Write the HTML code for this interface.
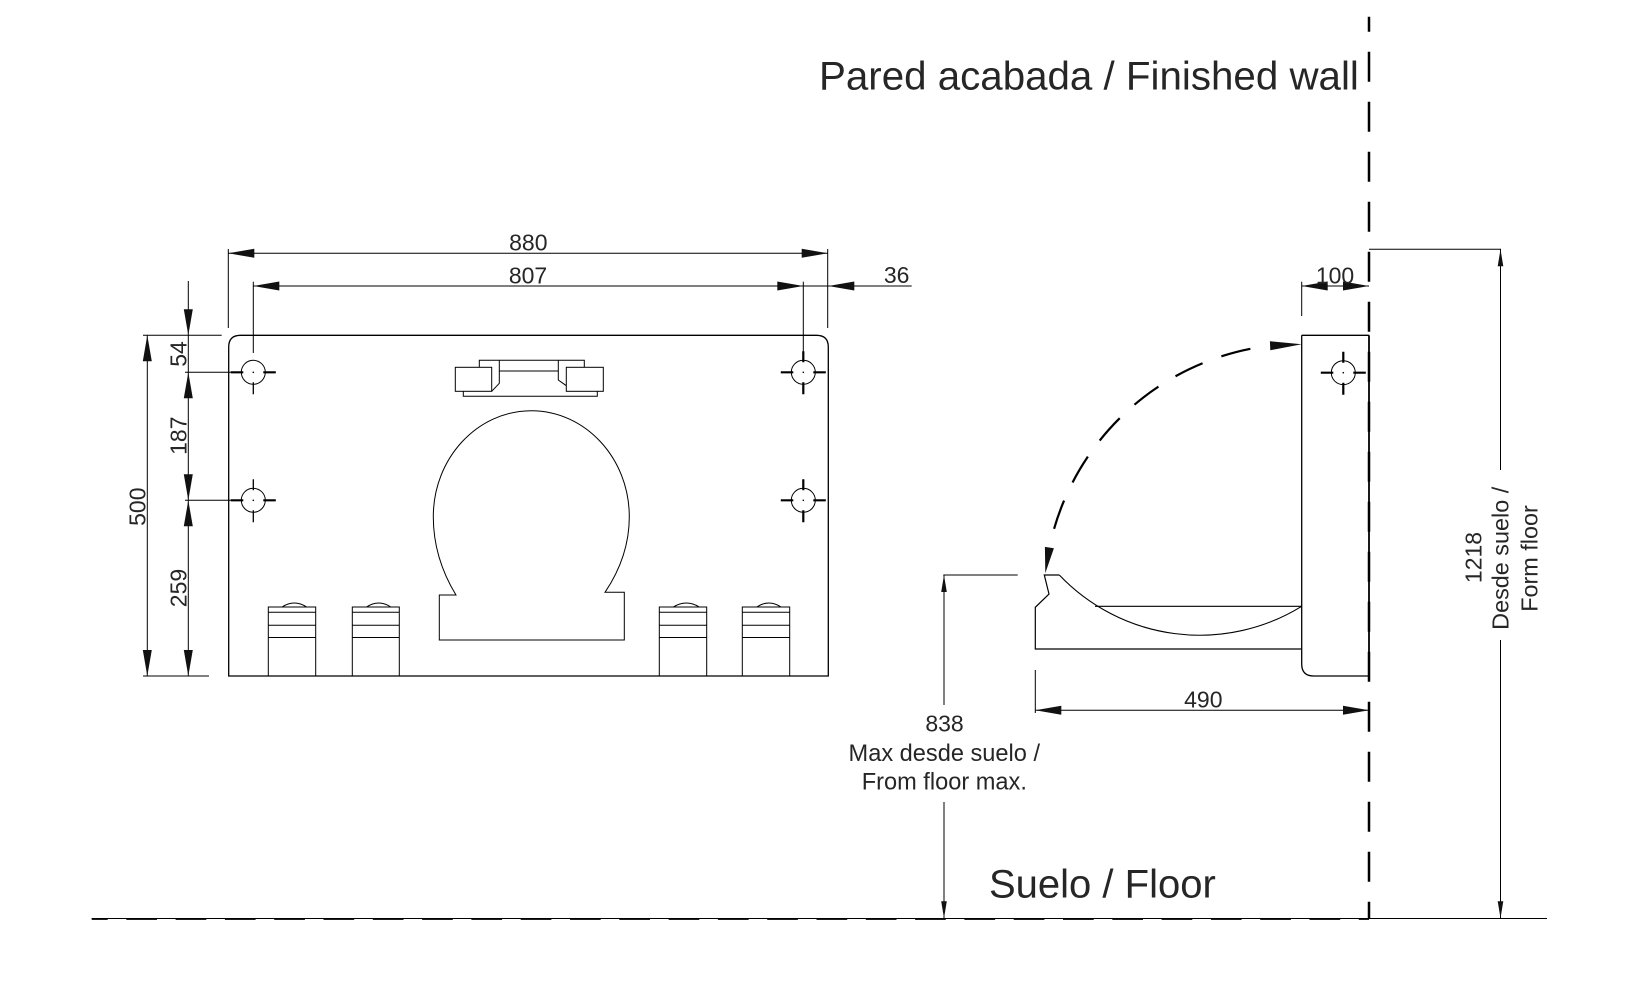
<!DOCTYPE html>
<html><head><meta charset="utf-8"><style>
html,body{margin:0;padding:0;background:#fff;}
svg{display:block;}
text{font-family:"Liberation Sans",Arial,sans-serif;fill:#262626;}
</style></head><body>
<svg width="1652" height="1005" viewBox="0 0 1652 1005" xmlns="http://www.w3.org/2000/svg">
<rect width="1652" height="1005" fill="#fff"/>
<g stroke="#000" stroke-width="1" fill="none">
<!-- ===== FRONT VIEW PLATE ===== -->
<path d="M228.7,676 V347 Q228.7,335.3 240.5,335.3 H816.5 Q828.3,335.3 828.3,347 V676 Z" stroke-width="1.3"/>
<!-- handle -->
<rect x="455.3" y="367.3" width="36.4" height="24"/>
<rect x="566.3" y="367.3" width="37" height="24"/>
<polyline points="479.3,367.3 479.3,360.3 584.3,360.3 584.3,367.3"/>
<polyline points="499.3,360.3 499.3,383.3 491.7,391.3"/>
<polyline points="558.3,360.3 558.3,380 566.3,385.7"/>
<line x1="499.3" y1="371" x2="558.3" y2="371"/>
<polyline points="463.3,391.3 463.3,396.3 597.3,396.3 597.3,391.3"/>
<!-- keyhole -->
<path d="M456,595 C442,572 433.3,545 433.3,516.7 C433.3,458.2 477.4,410.7 531.3,410.7 C585.2,410.7 629.3,458.2 629.3,516.7 C629.3,545 620,570 605,592.3 H624.3 V640 H439.3 V595 Z"/>
<!-- buttons -->
<g>
<rect x="268.3" y="607" width="47.4" height="69"/><line x1="268.3" y1="612.3" x2="315.7" y2="612.3"/><line x1="268.3" y1="625.3" x2="315.7" y2="625.3"/><line x1="268.3" y1="637.5" x2="315.7" y2="637.5"/><path d="M282,607 Q294.3,599 306.7,607"/>
<rect x="352.3" y="607" width="47" height="69"/><line x1="352.3" y1="612.3" x2="399.3" y2="612.3"/><line x1="352.3" y1="625.3" x2="399.3" y2="625.3"/><line x1="352.3" y1="637.5" x2="399.3" y2="637.5"/><path d="M366.5,607 Q378.7,599 390.8,607"/>
<rect x="659.3" y="607" width="47.4" height="69"/><line x1="659.3" y1="612.3" x2="706.7" y2="612.3"/><line x1="659.3" y1="625.3" x2="706.7" y2="625.3"/><line x1="659.3" y1="637.5" x2="706.7" y2="637.5"/><path d="M673.3,607 Q686.3,599 699.3,607"/>
<rect x="742.3" y="607" width="47.4" height="69"/><line x1="742.3" y1="612.3" x2="789.7" y2="612.3"/><line x1="742.3" y1="625.3" x2="789.7" y2="625.3"/><line x1="742.3" y1="637.5" x2="789.7" y2="637.5"/><path d="M756.7,607 Q768.8,599 781,607"/>
</g>
<!-- holes -->
<g>
<circle cx="253.3" cy="372.3" r="12"/><circle cx="803.3" cy="372.3" r="12"/>
<circle cx="253.3" cy="500.3" r="12"/><circle cx="803.3" cy="500.3" r="12"/>
<circle cx="1343.3" cy="372.7" r="12"/>
</g>
<g stroke-width="2.2">
<path d="M230.8,372.3 H243.3 M263.3,372.3 H275.8 M780.8,372.3 H793.3 M813.3,372.3 H825.8"/>
<path d="M230.8,500.3 H243.3 M263.3,500.3 H275.8 M780.8,500.3 H793.3 M813.3,500.3 H825.8"/>
<path d="M1320.8,372.7 H1333.3 M1353.3,372.7 H1365.8"/>
<path d="M803.3,351.3 V362.3 M803.3,382.3 V394.3 M803.3,479.3 V490.3 M803.3,510.3 V522.3 M1343.3,351.7 V362.7 M1343.3,382.7 V394.7"/>
</g>
<g stroke-width="1.3">
<path d="M253.3,382.3 V394.3 M253.3,479.3 V490.3 M253.3,510.3 V522.3"/>
</g>
<g fill="#000" stroke="none">
<circle cx="253.3" cy="372.3" r="0.8"/><circle cx="803.3" cy="372.3" r="0.8"/><circle cx="253.3" cy="500.3" r="0.8"/><circle cx="803.3" cy="500.3" r="0.8"/><circle cx="1343.3" cy="372.7" r="0.8"/>
</g>

<!-- ===== FRONT VIEW DIMENSIONS ===== -->
<line x1="228.3" y1="249" x2="228.3" y2="328"/>
<line x1="827.7" y1="249" x2="827.7" y2="328"/>
<line x1="228.3" y1="253.3" x2="827.7" y2="253.3"/>
<line x1="253.3" y1="281.7" x2="253.3" y2="353"/>
<line x1="803.3" y1="281.7" x2="803.3" y2="353"/>
<line x1="253.3" y1="286" x2="911.7" y2="286"/>
<line x1="143" y1="335.3" x2="221.7" y2="335.3"/>
<line x1="143" y1="676" x2="209" y2="676"/>
<line x1="185" y1="372.3" x2="231" y2="372.3"/>
<line x1="185" y1="500.3" x2="231" y2="500.3"/>
<line x1="188.3" y1="281" x2="188.3" y2="676"/>
<line x1="147.3" y1="335.3" x2="147.3" y2="676"/>

<!-- ===== SIDE VIEW ===== -->
<path d="M1301.7,335.3 H1369 M1301.7,335.3 V664 Q1301.7,676 1313.7,676 H1369" stroke-width="1.3"/>
<line x1="1369" y1="335.3" x2="1369" y2="676" stroke-width="1.8"/>
<polyline points="1059.3,575 1044.3,575 1049,594 1035.3,607.3 1035.3,649 1301.7,649" stroke-width="1.2"/>
<line x1="1095" y1="606.3" x2="1301.7" y2="606.3" stroke-width="1.2"/>
<path d="M1059.3,575 A194,194 0 0 0 1301.7,606.3" stroke-width="1.1"/>
<!-- dashed rotation arc -->
<path d="M1270.1,345.7 A256,256 0 0 0 1049.4,547.6" stroke-width="2.2" stroke-dasharray="30 20" stroke-dashoffset="30"/>

<!-- side dims -->
<line x1="1301.7" y1="281.7" x2="1301.7" y2="316"/>
<line x1="1301.7" y1="286" x2="1369" y2="286"/>
<line x1="1369" y1="249.3" x2="1501" y2="249.3"/>
<line x1="1500.5" y1="249.3" x2="1500.5" y2="470"/>
<line x1="1500.5" y1="640" x2="1500.5" y2="918.3"/>
<line x1="943.3" y1="575" x2="1017.7" y2="575"/>
<line x1="944" y1="575" x2="944" y2="705"/>
<line x1="944" y1="802" x2="944" y2="918.3"/>
<line x1="1035.3" y1="670" x2="1035.3" y2="713"/>
<line x1="1035.3" y1="710.3" x2="1369" y2="710.3"/>

<!-- wall & floor -->
<line x1="1369" y1="16.7" x2="1369" y2="918.3" stroke-width="2.5" stroke-dasharray="30 20" stroke-dashoffset="15"/>
<line x1="91.7" y1="918.5" x2="1547" y2="918.5" stroke-width="1"/>
<line x1="91.7" y1="919" x2="1369" y2="919" stroke-width="1.8" stroke-dasharray="30.7 18.6" stroke-dashoffset="14.7"/>
</g>

<!-- ===== ARROWHEADS ===== -->
<g fill="#111" stroke="none">
<!-- 880 -->
<polygon points="228.3,253.3 254.3,248.8 254.3,257.8"/>
<polygon points="827.7,253.3 801.7,248.8 801.7,257.8"/>
<!-- 807 -->
<polygon points="253.3,286 279.3,281.5 279.3,290.5"/>
<polygon points="803.3,286 777.3,281.5 777.3,290.5"/>
<!-- 36 -->
<polygon points="828.3,286 854.3,281.5 854.3,290.5"/>
<!-- 100 -->
<polygon points="1301.7,286 1327.7,281.5 1327.7,290.5"/>
<polygon points="1369,286 1343,281.5 1343,290.5"/>
<!-- 490 -->
<polygon points="1035.3,710.3 1061.3,705.8 1061.3,714.8"/>
<polygon points="1369,710.3 1343,705.8 1343,714.8"/>
<!-- left verticals -->
<polygon points="188.3,335.3 183.8,309.3 192.8,309.3"/>
<polygon points="188.3,372.3 183.8,398.3 192.8,398.3"/>
<polygon points="188.3,500.3 183.8,474.3 192.8,474.3"/>
<polygon points="188.3,500.3 183.8,526.3 192.8,526.3"/>
<polygon points="188.3,676 183.8,650 192.8,650"/>
<polygon points="147.3,335.3 142.8,361.3 151.8,361.3"/>
<polygon points="147.3,676 142.8,650 151.8,650"/>
<!-- narrow arrows 838 / 1218 -->
<polygon points="944,575 941.2,592 946.8,592"/>
<polygon points="944,918.3 941.2,901.3 946.8,901.3"/>
<polygon points="1500.5,249.3 1497.7,266.3 1503.3,266.3"/>
<polygon points="1500.5,918.3 1497.7,901.3 1503.3,901.3"/>
<!-- arc arrows -->
<polygon points="1301.7,344.3 1270.3,350.2 1269.9,341.2"/>
<polygon points="1045.3,573.3 1053.9,548.3 1044.9,546.9"/>
</g>

<!-- ===== TEXT ===== -->
<g font-size="23">
<text x="528.3" y="250.7" text-anchor="middle">880</text>
<text x="528" y="283.3" text-anchor="middle">807</text>
<text x="896.7" y="283" text-anchor="middle">36</text>
<text x="1335" y="283.3" text-anchor="middle">100</text>
<text x="1203.3" y="707.3" text-anchor="middle">490</text>
<text transform="translate(186.5,354) rotate(-90)" text-anchor="middle">54</text>
<text transform="translate(186.5,435.7) rotate(-90)" text-anchor="middle">187</text>
<text transform="translate(186.5,588) rotate(-90)" text-anchor="middle">259</text>
<text transform="translate(145.7,506.7) rotate(-90)" text-anchor="middle">500</text>
<text x="944.5" y="731.7" text-anchor="middle">838</text>
<text x="944.3" y="761" text-anchor="middle" font-size="23.6">Max desde suelo /</text>
<text x="944.3" y="789.3" text-anchor="middle" font-size="23.6">From floor max.</text>
<text transform="translate(1481.7,557.5) rotate(-90)" text-anchor="middle">1218</text>
<text transform="translate(1508.3,558.3) rotate(-90)" text-anchor="middle" font-size="23.4">Desde suelo /</text>
<text transform="translate(1537.3,558.5) rotate(-90)" text-anchor="middle" font-size="23.4">Form floor</text>
</g>
<text x="819" y="89.3" font-size="40.3">Pared acabada / Finished wall</text>
<text x="989" y="897.3" font-size="40">Suelo / Floor</text>
</svg>
</body></html>
